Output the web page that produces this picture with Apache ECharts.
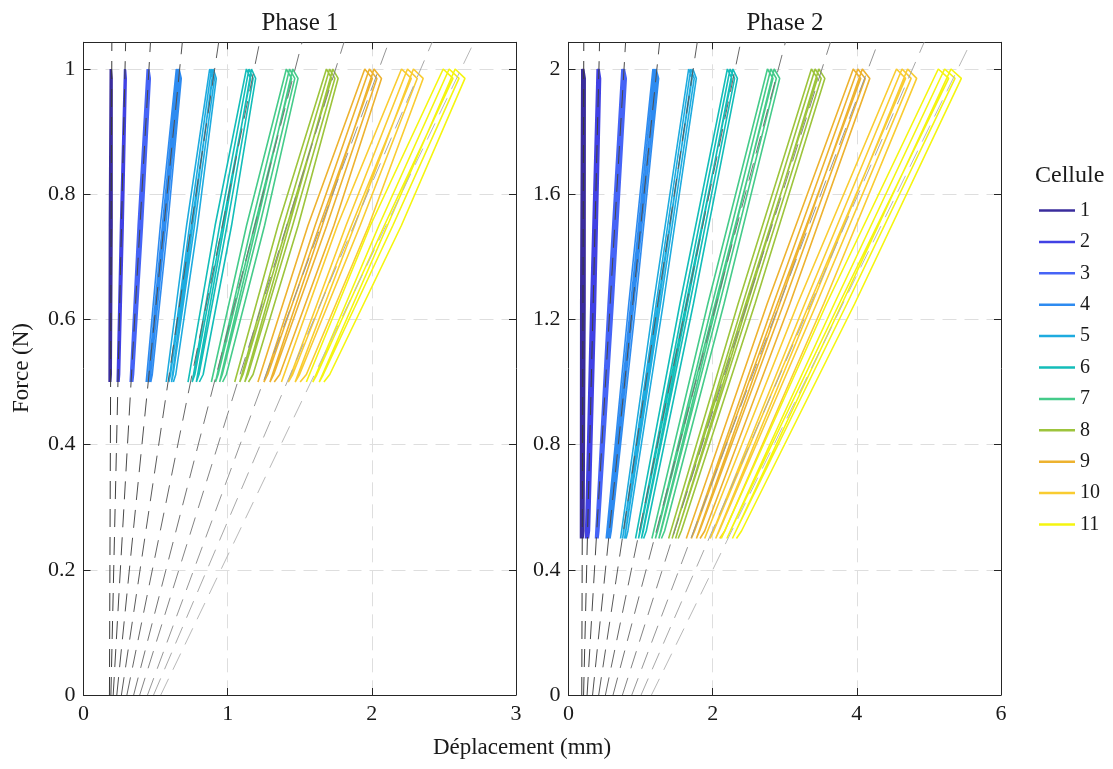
<!DOCTYPE html>
<html><head><meta charset="utf-8">
<script src="https://cdn.jsdelivr.net/npm/echarts@6/dist/echarts.min.js"></script>
<style>html,body{margin:0;padding:0;background:#fff}#c{width:1113px;height:769px}</style>
</head><body><div id="c"></div>
<script>
// ---------- data (mm / N) ----------
const cells = ['1','2','3','4','5','6','7','8','9','10','11'];

// Phase 1: cycles between 0.5 N and 1 N (bundle edges at low, mid and high force)
const phase1Forces = [0.5, 0.75, 1.0];
const phase1BottomLeft  = [0.178,0.234,0.324,0.435,0.574,0.725,0.887,1.049,1.210,1.373,1.546];
const phase1BottomRight = [0.192,0.250,0.347,0.477,0.640,0.830,0.991,1.176,1.361,1.546,1.708];
const phase1MidLeft     = [0.180,0.257,0.379,0.533,0.715,0.913,1.131,1.349,1.557,1.761,1.990];
const phase1MidRight    = [0.198,0.275,0.409,0.584,0.791,1.027,1.256,1.489,1.737,1.979,2.205];
const phase1TopLeft     = [0.186,0.285,0.442,0.644,0.875,1.130,1.407,1.685,1.951,2.206,2.495];
const phase1TopRight    = [0.198,0.296,0.463,0.678,0.921,1.194,1.488,1.766,2.067,2.356,2.646];
// fitted line: displacement at F = 0 and at F = 1
const phase1FitAt0 = [0.180,0.190,0.206,0.231,0.263,0.301,0.348,0.390,0.444,0.486,0.536];
const phase1FitAt1 = [0.196,0.288,0.454,0.667,0.910,1.184,1.468,1.749,2.049,2.339,2.619];

// Phase 2: cycles between 0.5 N and 2 N
const phase2Forces = [0.5, 1.25, 2.0];
const phase2BottomLeft  = [0.167,0.236,0.375,0.523,0.722,0.930,1.157,1.389,1.634,1.889,2.120];
const phase2BottomRight = [0.213,0.290,0.421,0.593,0.824,1.079,1.333,1.565,1.889,2.167,2.400];
const phase2MidLeft     = [0.170,0.310,0.550,0.836,1.179,1.546,1.933,2.353,2.756,3.178,3.580];
const phase2MidRight    = [0.229,0.375,0.619,0.933,1.314,1.733,2.158,2.588,3.071,3.541,3.970];
const phase2TopLeft     = [0.185,0.398,0.741,1.171,1.667,2.204,2.760,3.370,3.950,4.550,5.130];
const phase2TopRight    = [0.231,0.444,0.801,1.250,1.773,2.343,2.930,3.556,4.180,4.830,5.450];
// fitted line: displacement at F = 0 and at F = 2
const phase2FitAt0 = [0.184,0.209,0.258,0.334,0.419,0.512,0.618,0.748,0.878,1.007,1.151];
const phase2FitAt2 = [0.211,0.422,0.770,1.226,1.730,2.312,2.911,3.516,4.156,4.773,5.400];

const xTicks1 = {min:0, max:3, interval:1};
const yTicks1 = {min:0, max:1.0427, interval:0.2};
const xTicks2 = {min:0, max:6, interval:2};
const yTicks2 = {min:0, max:2.0853, interval:0.4};

const colors = ['#3a2c9c','#4141e4','#4664f6','#2e8bf0','#1eabdf','#13bdb9','#45cb8a','#9dc43c','#edb22f','#f9cc31','#f5f50f'];
const fitGrays = ['#3a3a3a','#404040','#484848','#505050','#5a5a5a','#666666','#747474','#848484','#969696','#a8a8a8','#b8b8b8'];
// ---------------------------------------------------------

const FONT = 'Liberation Serif';
const TXT = '#1a1a1a';
const AX = '#262626';

// three load/unload cycles laid across the bundle edges read at three force levels
function cyclePath(L, R, F) {
  const pts = [];
  const fHi = F[2], fLo = F[0];
  for (let k = 0; k < 3; k++) {
    const left = j => L[j] + k * 0.275 * (R[j] - L[j]);
    const right = j => left(j) + 0.45 * (R[j] - L[j]);
    pts.push([left(0), fLo]);
    pts.push([left(1), F[1]]);
    pts.push([left(2), fHi]);
    pts.push([right(2), fHi - 0.015 * fHi]);
    pts.push([right(1), F[1]]);
    pts.push([right(0), fLo + 0.012 * fHi]);
  }
  pts.push([L[0] + 0.75 * (R[0] - L[0]), fLo]);
  return pts;
}

function axes(gi, xt, yt) {
  const line = {show:true, onZero:false, lineStyle:{color:AX, width:1}};
  const tick = {show:true, inside:true, length:7, lineStyle:{color:AX, width:1}};
  const grid = {show:true, lineStyle:{color:'#dedede', width:1, type:[14,8]}};
  const lab = {fontFamily:FONT, fontSize:22, color:TXT};
  return {
    x: [
      Object.assign({type:'value', gridIndex:gi, position:'bottom', axisLine:line, axisTick:tick,
        axisLabel:Object.assign({margin:8}, lab), splitLine:grid}, xt),
      Object.assign({type:'value', gridIndex:gi, position:'top', axisLine:line, axisTick:tick,
        axisLabel:{show:false}, splitLine:{show:false}}, xt)
    ],
    y: [
      Object.assign({type:'value', gridIndex:gi, position:'left', axisLine:line, axisTick:tick,
        axisLabel:Object.assign({margin:8, showMaxLabel:false}, lab), splitLine:grid}, yt),
      Object.assign({type:'value', gridIndex:gi, position:'right', axisLine:line, axisTick:tick,
        axisLabel:{show:false}, splitLine:{show:false}}, yt)
    ]
  };
}

const a1 = axes(0, xTicks1, yTicks1);
const a2 = axes(1, xTicks2, yTicks2);

const series = [];
function addPhase(axisIdx, edges, F, fit0, fitF, fitForce, ymax) {
  cells.forEach((c, i) => {
    const L = [edges.bl[i], edges.ml[i], edges.tl[i]];
    const R = [edges.br[i], edges.mr[i], edges.tr[i]];
    series.push({
      name: c, type: 'line', xAxisIndex: axisIdx, yAxisIndex: axisIdx,
      data: cyclePath(L, R, F),
      showSymbol: false, symbol: 'none', color: colors[i],
      lineStyle: {width: 1.6, color: colors[i]}, z: 2, silent: true
    });
  });
  cells.forEach((c, i) => {
    const slope = (fitF[i] - fit0[i]) / fitForce;
    series.push({
      type: 'line', xAxisIndex: axisIdx, yAxisIndex: axisIdx,
      data: [[fit0[i], 0], [fit0[i] + slope * ymax, ymax]],
      showSymbol: false, symbol: 'none',
      lineStyle: {width: 1, color: fitGrays[i], type: [18, 10]}, z: 3, silent: true
    });
  });
}
addPhase(0, {bl:phase1BottomLeft, br:phase1BottomRight, ml:phase1MidLeft, mr:phase1MidRight, tl:phase1TopLeft, tr:phase1TopRight},
  phase1Forces, phase1FitAt0, phase1FitAt1, 1, yTicks1.max);
addPhase(2, {bl:phase2BottomLeft, br:phase2BottomRight, ml:phase2MidLeft, mr:phase2MidRight, tl:phase2TopLeft, tr:phase2TopRight},
  phase2Forces, phase2FitAt0, phase2FitAt2, 2, yTicks2.max);

const chart = echarts.init(document.getElementById('c'), null, {renderer:'canvas'});
chart.setOption({
  animation: false,
  backgroundColor: '#fff',
  grid: [
    {left: 83.5, top: 42.3, width: 432.5, height: 652.7},
    {left: 568.5, top: 42.3, width: 432.5, height: 652.7}
  ],
  xAxis: [a1.x[0], a1.x[1], a2.x[0], a2.x[1]],
  yAxis: [a1.y[0], a1.y[1], a2.y[0], a2.y[1]],
  legend: {
    data: cells, orient: 'vertical', left: 1034, top: 195.5,
    icon: 'rect', itemWidth: 36, itemHeight: 2.5, itemGap: 11.4,
    textStyle: {fontFamily: FONT, fontSize: 20, lineHeight: 20, color: TXT}
  },
  graphic: [
    {type:'text', style:{text:'Phase 1', x:300, y:23, fontFamily:FONT, fontSize:25, fill:TXT, align:'center', verticalAlign:'middle'}},
    {type:'text', style:{text:'Phase 2', x:785, y:23, fontFamily:FONT, fontSize:25, fill:TXT, align:'center', verticalAlign:'middle'}},
    {type:'text', x:22, y:368, rotation: Math.PI/2, style:{text:'Force (N)', x:0, y:0, fontFamily:FONT, fontSize:23, fill:TXT, align:'center', verticalAlign:'middle'}},
    {type:'text', style:{text:'Déplacement (mm)', x:522, y:748, fontFamily:FONT, fontSize:23, fill:TXT, align:'center', verticalAlign:'middle'}},
    {type:'text', style:{text:'Cellule', x:1035, y:176, fontFamily:FONT, fontSize:24, fill:TXT, align:'left', verticalAlign:'middle'}}
  ],
  series: series
});
</script>
</body></html>
